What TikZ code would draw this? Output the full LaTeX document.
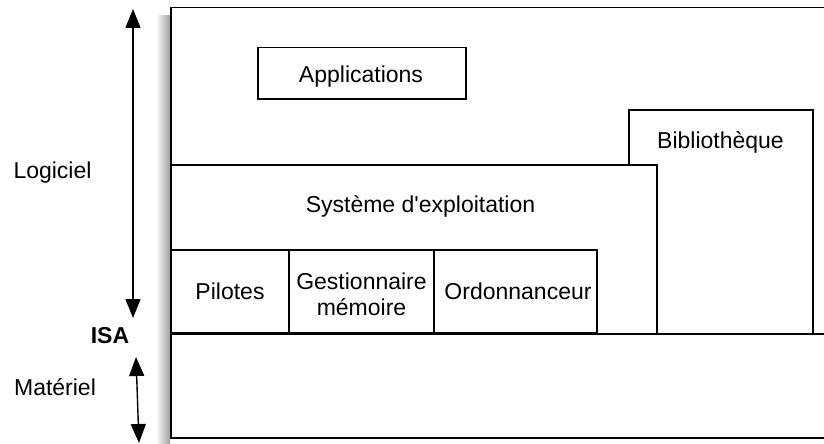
\documentclass[tikz,border=0pt]{standalone}
\usepackage{fontspec}
\setmainfont{Liberation Sans}[Ligatures=TeXOff]
\usetikzlibrary{arrows.meta}
\tikzset{
  layer/.style={draw=black, line width=1.5pt, fill=white, inner sep=0pt},
  lbl/.style={inner sep=0pt, anchor=base, font=\fontsize{23}{26}\selectfont},
  dbl/.style={draw=black, line width=1.4pt, {Triangle[width=15pt,length=19pt]}-{Triangle[width=15pt,length=19pt]}}
}
\begin{document}
\begin{tikzpicture}[x=1pt,y=-1pt]
\clip (0,0) rectangle (824,444);
\fill[white] (0,0) rectangle (824,444);
% soft shadow of the big boxes
\shade[left color=white, right color=black!38] (156,16) rectangle (170,444);
% software (outer) box
\node[layer, minimum width=680pt, minimum height=326pt, anchor=north west] (soft) at (170,7) {};
% hardware box
\node[layer, line width=1.8pt, minimum width=680pt, minimum height=104pt, anchor=north west] (hard) at (170,333) {};
% applications
\node[layer, minimum width=208pt, minimum height=51pt, anchor=north west] (appbox) at (257,47) {};
\node[lbl] (app) at (361,82) {Applications};
% bibliotheque
\node[layer, minimum width=184pt, minimum height=224pt, anchor=north west] (bibbox) at (628,109) {};
\node[lbl] (bib) at (720.5,148) {Bibliothèque};
% operating system
\node[layer, minimum width=486pt, minimum height=169pt, anchor=north west] (osbox) at (170,164) {};
\node[lbl] (os) at (420.5,212) {Système d'exploitation};
% components
\node[layer, minimum width=118pt, minimum height=83pt, anchor=north west] (pilbox) at (170,249) {};
\node[lbl] (pil) at (230,299) {Pilotes};
\node[layer, minimum width=145pt, minimum height=83pt, anchor=north west] (gesbox) at (288,249) {};
\node[inner sep=0pt, align=center, font=\fontsize{23}{26}\selectfont] (ges) at (361.5,294) {Gestionnaire\\mémoire};
\node[layer, minimum width=163pt, minimum height=83pt, anchor=north west] (ordbox) at (433,249) {};
\node[lbl] (ord) at (518,299) {Ordonnanceur};
% side labels
\node[lbl] (log) at (52.5,178) {Logiciel};
\node[lbl] (mat) at (55,395) {Matériel};
\node[lbl, font=\fontsize{23}{26}\selectfont\bfseries] (isa) at (110,343) {ISA};
% arrows
\coordinate (logtop) at (133,9);
\coordinate (logbot) at (133,318);
\coordinate (mattop) at (136,357);
\coordinate (matbot) at (139,443);
\draw[dbl] (logtop) -- (logbot);
\draw[dbl] (mattop) -- (matbot);
\end{tikzpicture}
\end{document}
